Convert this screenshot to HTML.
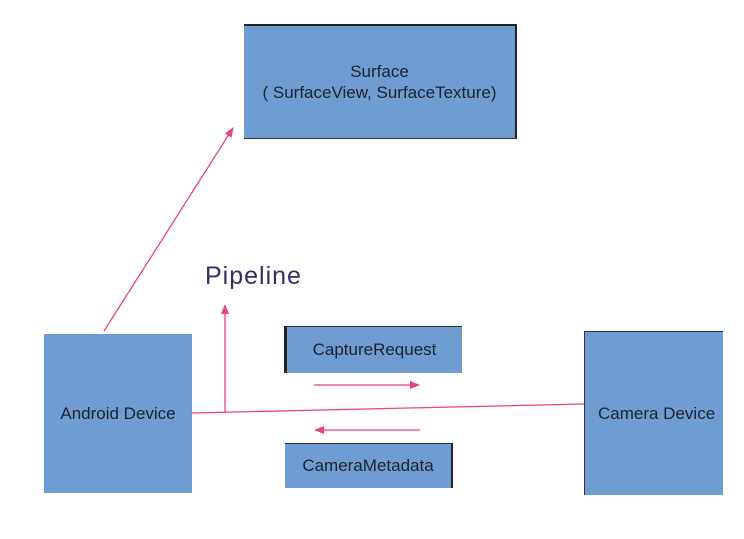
<!DOCTYPE html>
<html><head><style>
body{margin:0;background:#fff;width:744px;height:539px;position:relative;overflow:hidden;font-family:"Liberation Sans",sans-serif}
.b{position:absolute;background:#6f9dd1;color:#1a2330;display:flex;align-items:center;justify-content:center;text-align:center;box-sizing:border-box}
</style></head><body>
<div class="b" style="left:244px;top:24px;width:273px;height:115px;font-size:17px;line-height:21px;border-top:2px solid #222;border-right:2px solid #222;border-bottom:1px solid #333">Surface<br>( SurfaceView, SurfaceTexture)</div>
<div class="b" style="left:284px;top:326px;width:178px;height:47px;font-size:17px;border-left:3px solid #222;border-top:1px solid #333">CaptureRequest</div>
<div class="b" style="left:285px;top:443px;width:168px;height:45px;font-size:17px;border-right:2px solid #222;border-top:1px solid #333">CameraMetadata</div>
<div class="b" style="left:44px;top:334px;width:148px;height:159px;font-size:17px">Android Device</div>
<div class="b" style="left:584px;top:331px;width:139px;height:164px;font-size:17px;border-left:1px solid #333;border-top:1px solid #333;justify-content:flex-start;padding-left:13px;white-space:nowrap;overflow:hidden">Camera Device</div>
<div style="position:absolute;left:205px;top:262px;font-size:25px;color:#3a2a6a;letter-spacing:1px">Pipeline</div>
<svg width="744" height="539" style="position:absolute;left:0;top:0">
<defs><marker id="a" markerWidth="10" markerHeight="8" refX="9" refY="4" orient="auto" markerUnits="userSpaceOnUse"><path d="M0,0L10,4L0,8z" fill="#e8457a"/></marker></defs>
<g stroke="#e8457a" stroke-width="1.3" fill="none">
<line x1="104" y1="331" x2="233" y2="128" marker-end="url(#a)"/>
<line x1="225" y1="412" x2="225" y2="305" marker-end="url(#a)"/>
<line x1="191" y1="413" x2="584" y2="404"/>
<line x1="314" y1="385" x2="419" y2="385" marker-end="url(#a)"/>
<line x1="420" y1="430" x2="315" y2="430" marker-end="url(#a)"/>
</g></svg>
</body></html>
